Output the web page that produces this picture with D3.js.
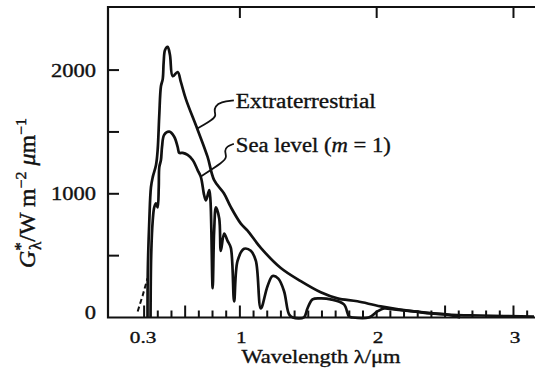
<!DOCTYPE html>
<html>
<head>
<meta charset="utf-8">
<script src="https://cdn.jsdelivr.net/npm/d3@7"></script>
<style>
  html, body { margin: 0; padding: 0; background: #fff; }
  svg { display: block; }
  text { font-family: "Liberation Serif", "Times New Roman", serif; fill: #111; stroke: #111; stroke-width: 0.35px; }
</style>
</head>
<body>
<svg id="chart" width="535" height="376"></svg>
<script>
// ---- Data (wavelength in µm, spectral irradiance in W m^-2 µm^-1) ----
const extraDashedWavelength = [0.253, 0.29, 0.325];
const extraDashedIrradiance = [49, 180, 318];

const extraWavelength = [0.325, 0.327, 0.338, 0.350, 0.363, 0.387, 0.399, 0.411, 0.423, 0.436, 0.443, 0.453, 0.472, 0.489, 0.509, 0.545, 0.569, 0.606, 0.691, 0.764, 0.812, 0.883, 0.934, 1.007, 1.056, 1.153, 1.299, 1.445, 1.591, 1.713, 1.859, 2.029, 2.270, 2.516, 2.76, 3.15];
const extraIrradiance = [0, 376, 784, 1053, 1135, 1233, 1355, 1641, 1869, 1927, 2065, 2163, 2188, 2122, 1951, 1984, 1902, 1763, 1518, 1298, 1110, 1004, 892, 759, 702, 563, 400, 294, 204, 155, 131, 90, 49, 24, 16, 8];

const seaWavelength = [0.347, 0.352, 0.363, 0.374, 0.387, 0.399, 0.407, 0.411, 0.423, 0.431, 0.447, 0.484, 0.520, 0.545, 0.557, 0.582, 0.618, 0.655, 0.691, 0.715, 0.739, 0.752, 0.776, 0.785, 0.801, 0.812, 0.825, 0.849, 0.861, 0.885, 0.910, 0.934, 0.958, 0.983, 1.031, 1.080, 1.117, 1.153, 1.202, 1.239, 1.281, 1.323, 1.360, 1.387, 1.467, 1.494, 1.531, 1.591, 1.664, 1.761, 1.798, 1.825, 1.942, 2.005, 2.053, 2.126, 2.272, 2.394, 2.516, 2.61];
const seaIrradiance = [0, 514, 784, 890, 922, 890, 1053, 1216, 1273, 1380, 1478, 1502, 1461, 1380, 1331, 1331, 1314, 1273, 1192, 1135, 988, 947, 1029, 947, 237, 702, 890, 800, 539, 678, 620, 563, 131, 457, 555, 539, 457, 73, 253, 335, 314, 212, 24, 0, 0, 73, 147, 155, 147, 106, 8, 0, 0, 49, 73, 65, 49, 33, 24, 0];

// Axis labels and tick positions
const yTickLabels = ["0", "1000", "2000"];
const yLabelValues = [0, 1000, 2000];
const yMarkValues = [500, 1000, 1500, 2000];
const xLabelValues = [0.3, 1, 2, 3];
const xTickLabels = ["0.3", "1", "2", "3"];
const xTopMarks = [1, 2, 3];
const xLongMarks = [0.3, 0.6, 1, 2.5, 3];

// Annotation leaders (data coordinates)
const extraLeaderWavelength = [0.956, 0.861, 0.818, 0.814, 0.825, 0.803, 0.693];
const extraLeaderIrradiance = [1755, 1743, 1706, 1665, 1633, 1600, 1530];
const seaLeaderWavelength = [0.956, 0.905, 0.887, 0.905, 0.880, 0.715];
const seaLeaderIrradiance = [1404, 1384, 1347, 1298, 1257, 1140];

// ---- Drawing ----
(function () {
const svg = d3.select("#chart");
const leftX = 108, rightX = 535, topY = 7, bottomY = 317.5;

const x = d3.scaleLinear().domain([0.036, 3.15]).range([leftX, 534]);
const y = d3.scaleLinear().domain([0, 2510]).range([bottomY, topY]);

const ink = "#111";
const zip = (a, b) => a.map((v, i) => [v, b[i]]);

// frame
svg.append("path")
  .attr("d", `M${rightX},${topY}H${leftX}V${bottomY}H${rightX}`)
  .attr("fill", "none").attr("stroke", ink).attr("stroke-width", 2.2);

// inward tick marks
const xMinor = d3.range(3, 32).map(i => i / 10);
const isLong = v => xLongMarks.some(t => Math.abs(t - v) < 1e-6);
const marks = [];
yMarkValues.forEach(v => marks.push({ x1: leftX, y1: y(v), x2: leftX + 11, y2: y(v) }));
xTopMarks.forEach(v => marks.push({ x1: x(v), y1: topY, x2: x(v), y2: topY + 11 }));
xMinor.forEach(v => marks.push({ x1: x(v), y1: bottomY, x2: x(v), y2: bottomY - (isLong(v) ? 12 : 7) }));
const markG = svg.append("g").attr("class", "marks");
marks.forEach(m => {
  markG.append("line")
    .attr("x1", m.x1).attr("y1", m.y1).attr("x2", m.x2).attr("y2", m.y2)
    .style("stroke", "#111").style("stroke-width", "2px");
});

// y tick labels
svg.append("g").selectAll("text").data(yLabelValues).join("text")
  .attr("transform", d => `translate(96,${(d === 0 ? y(d) - 5 : y(d)) + 6.5}) scale(1.25,1)`)
  .attr("text-anchor", "end")
  .attr("font-size", 18)
  .text((d, i) => yTickLabels[i]);

// x tick labels
svg.append("g").selectAll("text").data(xLabelValues).join("text")
  .attr("transform", d => `translate(${x(d) + (d === 0.3 ? -1 : 1.5)},342.5) scale(1.25,1)`)
  .attr("text-anchor", "middle")
  .attr("font-size", 17)
  .text((d, i) => xTickLabels[i]);

// x axis title
svg.append("text")
  .attr("transform", "translate(321,362.5) scale(1.25,1)")
  .attr("text-anchor", "middle")
  .attr("font-size", 18)
  .text("Wavelength λ/μm");

// y axis title
const yt = svg.append("text")
  .attr("transform", "translate(35,193) scale(1.25,1) rotate(-90)")
  .attr("text-anchor", "middle")
  .attr("font-size", 18)
  .attr("textLength", 150)
  .attr("lengthAdjust", "spacingAndGlyphs");
yt.append("tspan").attr("font-style", "italic").text("G");
yt.append("tspan").attr("font-size", 13).attr("dy", -7).text("*");
yt.append("tspan").attr("font-size", 13).attr("dx", -6).attr("dy", 12).text("λ");
yt.append("tspan").attr("dy", -5).text("/W m");
yt.append("tspan").attr("font-size", 12).attr("dy", -7).text("−2");
yt.append("tspan").attr("dy", 7).text(" ");
yt.append("tspan").attr("font-style", "italic").text("μ");
yt.append("tspan").text("m");
yt.append("tspan").attr("font-size", 12).attr("dy", -7).text("−1");

// curves
const curveLine = d3.line().x(d => x(d[0])).y(d => y(d[1])).curve(d3.curveCatmullRom.alpha(0.5));

svg.append("path")
  .attr("d", d3.line().x(d => x(d[0])).y(d => y(d[1]))(zip(extraDashedWavelength, extraDashedIrradiance)))
  .attr("fill", "none").attr("stroke", ink).attr("stroke-width", 2)
  .attr("stroke-dasharray", "5,3");

svg.append("path")
  .attr("d", curveLine(zip(extraWavelength, extraIrradiance)))
  .attr("fill", "none").attr("stroke", ink).attr("stroke-width", 2.7)
  .attr("stroke-linejoin", "round");

svg.append("path")
  .attr("d", curveLine(zip(seaWavelength, seaIrradiance)))
  .attr("fill", "none").attr("stroke", ink).attr("stroke-width", 2.7)
  .attr("stroke-linejoin", "round");

// annotation leaders
const leader = d3.line().x(d => x(d[0])).y(d => y(d[1])).curve(d3.curveBasis);
svg.append("path")
  .attr("d", leader(zip(extraLeaderWavelength, extraLeaderIrradiance)))
  .attr("fill", "none").attr("stroke", ink).attr("stroke-width", 1.8);
svg.append("path")
  .attr("d", leader(zip(seaLeaderWavelength, seaLeaderIrradiance)))
  .attr("fill", "none").attr("stroke", ink).attr("stroke-width", 1.8);

// annotation labels
svg.append("text")
  .attr("x", x(extraLeaderWavelength[0]) + 2).attr("y", y(extraLeaderIrradiance[0]) + 8)
  .attr("font-size", 20)
  .attr("textLength", 140).attr("lengthAdjust", "spacingAndGlyphs")
  .text("Extraterrestrial");

const sl = svg.append("text")
  .attr("x", x(seaLeaderWavelength[0]) + 2).attr("y", y(seaLeaderIrradiance[0]) + 8)
  .attr("font-size", 20)
  .attr("textLength", 155).attr("lengthAdjust", "spacingAndGlyphs");
sl.append("tspan").text("Sea level (");
sl.append("tspan").attr("font-style", "italic").text("m");
sl.append("tspan").text(" = 1)");
})();
</script>
</body>
</html>
